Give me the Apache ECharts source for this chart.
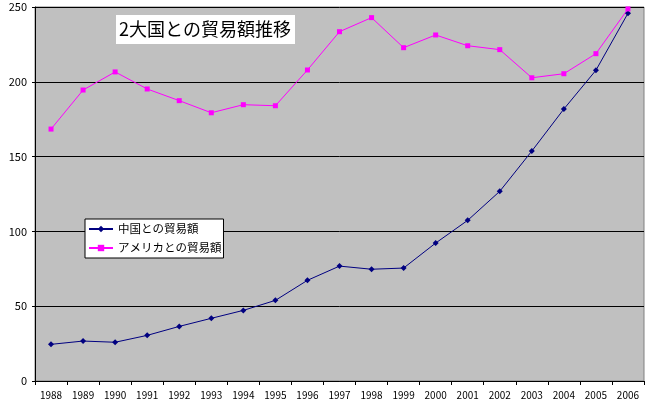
<!DOCTYPE html>
<html><head><meta charset="utf-8">
<script src="https://cdn.jsdelivr.net/npm/echarts@6/dist/echarts.min.js"></script>
<style>html,body{margin:0;padding:0;background:#fff}#c{width:653px;height:408px}</style>
</head><body><div id="c"></div>
<script>
const years = ['1988','1989','1990','1991','1992','1993','1994','1995','1996','1997','1998','1999','2000','2001','2002','2003','2004','2005','2006'];
const chinaTrade = [24.5,26.7,25.9,30.5,36.5,41.9,47.2,53.9,67.3,76.8,74.7,75.5,92.2,107.4,126.8,153.7,181.8,207.7,245.8];
const usTrade = [168.4,194.5,206.6,195.2,187.4,179.3,184.7,184.0,207.9,233.5,242.9,222.8,231.3,224.1,221.5,202.7,205.4,218.8,248.7];
const seriesNames = ['中国との貿易額','アメリカとの貿易額'];
const titleText = '2大国との貿易額推移';
const yTicks = {min:0, max:250, interval:50};

const font = '"Noto Sans CJK JP", sans-serif';
const chart = echarts.init(document.getElementById('c'));
chart.setOption({
  animation:false,
  backgroundColor:'#fff',
  title:{text:titleText, left:116, top:15, backgroundColor:'#fff', padding:[5,4,6,3],
    textStyle:{fontFamily:font, fontSize:18, fontWeight:'normal', color:'#000'}},
  legend:{orient:'vertical', left:85, top:219, backgroundColor:'#fff', borderColor:'#000', borderWidth:1,
    padding:[3,2,3,3], itemGap:5, itemWidth:24, itemHeight:8, itemTextGap:3,
    textStyle:{fontFamily:font, fontSize:11.5, lineHeight:14, color:'#000'},
    data:seriesNames},
  grid:{left:35, right:9, top:7, bottom:27, show:true, backgroundColor:'#c0c0c0', borderColor:'#808080', borderWidth:1},
  xAxis:{type:'category', data:years, boundaryGap:true,
    axisLine:{lineStyle:{color:'#000', width:1}},
    axisTick:{show:true, inside:false, length:4, lineStyle:{color:'#000'}},
    axisLabel:{fontFamily:font, fontSize:10, color:'#000', margin:9, interval:0}},
  yAxis:{type:'value', min:yTicks.min, max:yTicks.max, interval:yTicks.interval,
    axisLine:{show:true, lineStyle:{color:'#000', width:1}},
    axisTick:{show:true, length:3, lineStyle:{color:'#000'}},
    splitLine:{show:true, lineStyle:{color:'#000', width:1}},
    axisLabel:{fontFamily:font, fontSize:11, color:'#000', margin:8}},
  series:[
    {name:seriesNames[0], type:'line', data:chinaTrade, symbol:'diamond', symbolSize:6,
      lineStyle:{color:'#000080', width:1}, itemStyle:{color:'#000080'}},
    {name:seriesNames[1], type:'line', data:usTrade, symbol:'rect', symbolSize:5,
      lineStyle:{color:'#ff00ff', width:1}, itemStyle:{color:'#ff00ff'}}
  ]
});
</script></body></html>
